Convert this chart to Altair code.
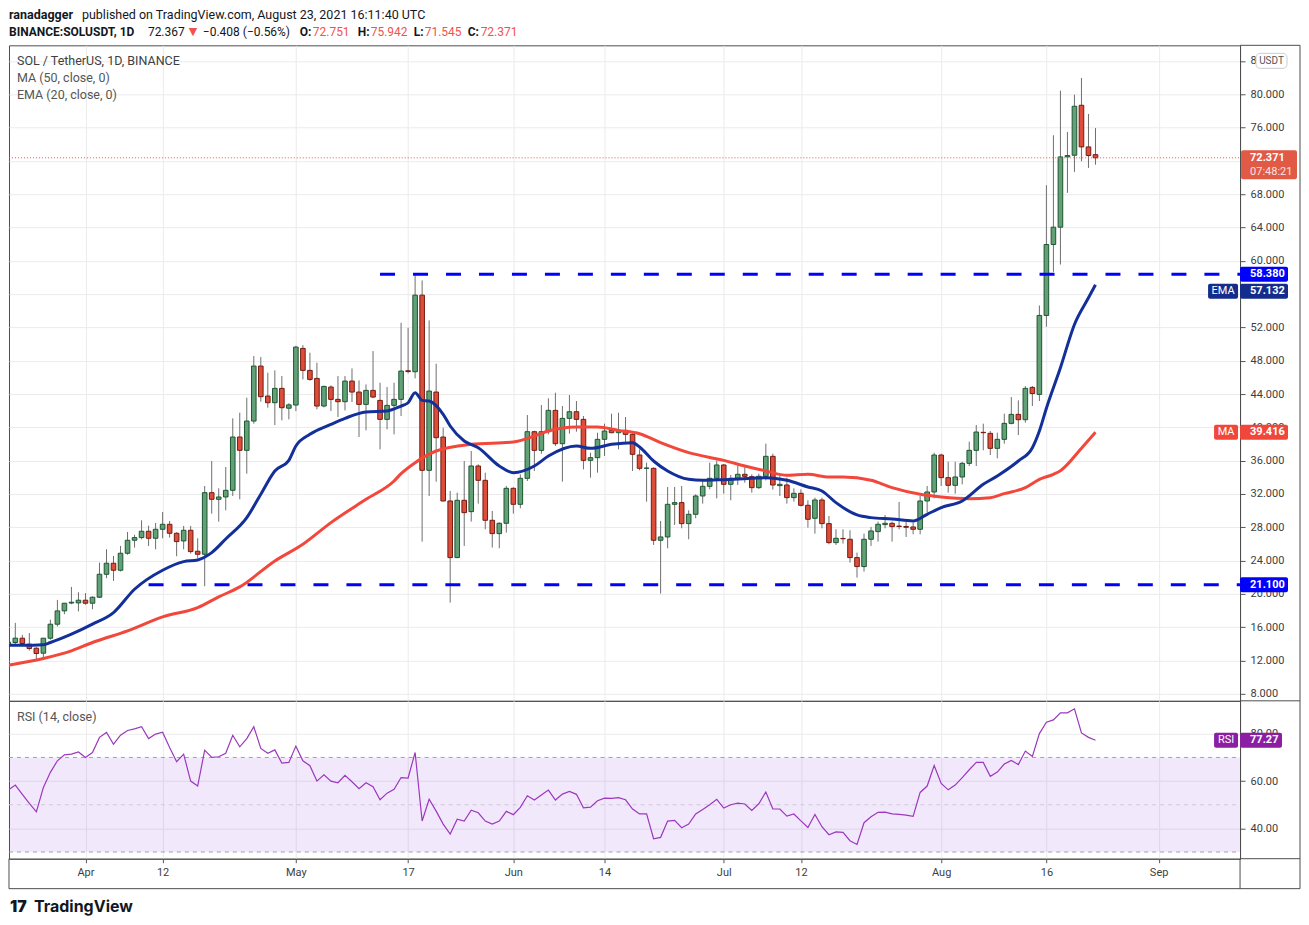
import altair as alt
import pandas as pd

# ---------------- data ----------------
# day index 0 = 2021-03-21, one candle per day up to 2021-08-23 (index 155)
opens = [13.96,14.16,14.68,13.96,13.48,12.88,14.68,16.36,17.96,18.9,
         18.92,19.24,18.88,19.6,22.36,23.68,22.84,24.88,26.44,26.76,
         27.52,26.68,27.76,28.36,27.28,26.36,27.64,25.12,24.76,32.16,
         31.36,31.64,32.44,38.84,37.24,40.76,47.36,43.76,42.96,44.68,
         42.3,42.68,49.48,46.84,45.88,42.56,44.84,43.36,43.08,45.56,
         44.24,42.76,44.44,43.24,40.96,42.64,43.36,46.8,46.68,55.88,
         34.84,44.24,38.84,31.16,24.36,31.24,29.88,35.36,33.64,28.84,
         27.24,28.48,32.68,30.76,33.88,39.48,37.24,39.48,42.04,38.04,
         41.08,41.88,40.96,36.04,36.36,38.56,39.64,39.36,39.64,39.16,
         36.68,35.08,35.08,26.44,26.84,30.76,30.96,28.44,29.56,31.76,
         32.92,33.88,35.48,33.16,33.88,34.36,34.08,32.76,34.12,36.52,
         33.0,33.08,31.56,32.08,30.64,29.08,31.28,28.44,26.16,26.66,
         26.56,24.36,23.28,26.56,27.48,28.32,28.48,28.14,28.1,28.04,
         27.76,31.16,32.24,36.68,33.96,33.04,34.04,35.68,37.24,39.4,
         39.28,37.48,38.56,40.48,41.56,40.92,44.8,43.96,53.44,61.96,
         64.04,72.48,72.68,78.68,73.68,72.751]
highs = [14.2,16.52,15.08,15.3,13.6,14.7,16.9,19.28,18.9,20.84,
         20.2,20.1,19.7,23.76,25.36,24.56,25.76,27.44,27.1,28.84,
         28.2,28.52,29.84,28.76,27.4,28.16,28.16,26.68,32.96,35.96,
         32.68,35.24,41.08,41.76,43.56,48.56,48.44,46.56,46.84,46.16,
         42.9,49.8,49.88,48.96,47.76,45.0,45.04,46.16,46.16,47.08,
         45.64,45.16,49.16,45.36,44.84,45.36,52.56,51.96,58.28,57.64,
         52.84,47.64,39.96,32.36,32.16,35.96,37.16,35.56,34.56,29.96,
         28.6,32.96,32.8,34.36,41.48,39.6,42.68,43.48,44.16,42.56,
         43.88,43.16,41.36,36.96,39.36,40.44,41.64,41.76,41.24,39.3,
         37.36,35.76,35.2,28.76,32.84,32.84,32.96,30.04,31.96,33.56,
         35.76,36.04,35.6,34.28,35.36,35.36,34.36,34.44,38.04,36.84,
         34.16,33.96,32.68,32.56,31.24,31.56,31.56,29.36,27.76,27.76,
         27.64,24.96,27.24,28.04,28.68,29.48,28.68,31.04,28.96,28.56,
         31.76,32.96,36.96,36.84,35.88,35.88,35.88,38.28,40.28,40.44,
         39.56,39.36,41.64,43.64,43.24,44.96,44.96,54.64,69.08,75.08,
         80.44,75.48,79.96,81.96,77.64,75.942]
lows = [13.5,13.76,13.76,13.2,12.16,12.2,14.5,16.08,17.56,18.76,
        17.9,18.7,18.16,19.5,21.88,21.56,22.7,24.7,25.56,26.56,
        25.76,25.36,26.68,26.76,24.52,25.36,24.84,24.28,20.92,29.64,
        28.68,30.04,31.76,31.36,34.44,40.44,43.08,42.36,40.28,40.84,
        40.96,41.96,45.76,45.6,42.16,42.4,41.96,41.24,42.04,43.04,
        38.84,39.64,43.5,37.36,39.76,39.16,41.36,46.5,45.88,26.28,
        31.76,33.48,31.1,18.96,24.3,25.76,28.68,30.84,27.76,25.56,
        25.48,27.36,29.64,30.28,33.56,34.76,36.84,39.16,37.76,33.48,
        39.24,39.48,34.96,33.96,34.56,36.56,39.3,37.36,38.16,34.76,
        34.84,31.08,25.88,20.04,25.48,28.28,27.88,26.56,29.08,30.84,
        32.56,31.48,32.04,31.24,33.08,33.36,32.16,32.6,33.64,32.52,
        31.76,30.84,31.08,30.5,27.96,27.24,27.88,25.96,25.88,26.04,
        23.76,21.96,22.68,25.76,26.28,27.88,26.28,27.76,26.84,27.16,
        27.16,29.76,31.48,32.96,32.16,32.04,33.16,35.36,35.36,37.24,
        36.68,36.28,38.04,40.36,39.08,40.56,42.56,43.16,52.08,58.68,
        59.56,68.16,70.68,71.96,71.16,71.545]
closes = [14.2,14.68,14.04,13.44,12.84,14.68,16.36,17.96,18.88,19.0,
          19.24,18.88,19.6,22.36,23.68,22.84,24.88,26.44,26.76,27.52,
          26.68,27.76,28.36,27.28,26.28,27.64,25.08,24.76,32.16,31.36,
          31.64,32.44,38.84,37.24,40.76,47.36,43.68,42.96,44.68,42.36,
          42.7,49.64,46.84,45.76,42.56,44.92,43.36,43.08,45.56,44.24,
          42.76,44.44,43.64,40.96,42.64,43.36,46.76,46.7,55.88,34.84,
          44.36,38.76,31.16,24.36,31.24,29.76,35.36,33.64,28.84,27.24,
          28.48,32.68,30.76,33.88,39.48,37.24,39.48,42.04,38.04,41.08,
          41.88,40.96,36.04,36.36,38.56,39.56,39.36,39.64,39.16,36.76,
          35.08,35.12,26.44,26.84,30.76,30.96,28.44,29.56,31.76,32.92,
          33.88,35.48,33.16,33.88,34.36,34.12,32.76,34.12,36.52,33.08,
          33.16,31.56,32.08,30.64,28.96,31.28,28.44,26.16,26.68,26.62,
          24.36,23.28,26.56,27.56,28.36,28.48,28.08,28.1,28.0,27.76,
          31.16,32.24,36.68,33.96,33.04,34.04,35.68,37.24,39.44,39.36,
          37.48,38.56,40.48,41.56,40.92,44.68,44.06,53.44,61.96,64.04,
          72.48,72.64,78.56,73.68,72.64,72.371]
rsi_vals = [56.2,58.3,54.4,50.6,47.0,57.3,63.7,68.6,71.1,71.4,
            72.3,70.0,72.1,78.5,80.6,75.6,79.4,81.4,82.1,83.0,
            78.0,79.9,80.7,74.2,68.2,71.4,60.0,57.9,73.1,70.0,
            70.3,71.8,79.4,74.5,78.0,83.0,73.8,71.8,73.2,67.6,
            67.9,74.8,68.6,66.5,60.0,62.7,60.0,59.3,62.4,59.7,
            56.8,59.3,57.6,52.1,54.9,56.5,61.5,61.3,72.1,43.1,
            52.3,47.3,41.8,37.6,43.9,43.1,47.7,46.6,43.1,41.8,
            43.1,47.2,45.8,48.9,53.8,52.0,54.1,56.2,52.0,54.5,
            55.6,54.4,48.7,49.0,51.7,52.8,52.7,53.0,52.1,48.2,
            46.1,46.1,35.6,36.2,43.1,43.4,40.3,41.8,46.1,48.0,
            50.0,52.3,48.6,50.0,50.7,50.3,47.6,50.4,55.4,48.2,
            48.2,45.2,46.1,43.2,40.4,45.9,40.7,37.3,38.5,38.3,
            34.8,33.2,42.4,44.9,46.8,46.9,46.1,45.9,45.6,45.1,
            55.2,57.9,66.6,59.0,56.3,58.3,61.5,64.8,67.9,67.9,
            62.0,63.8,67.2,68.7,67.0,72.7,70.4,80.1,84.9,85.9,
            88.9,88.9,90.6,80.4,78.5,77.27]

ema_days = [0,2,5,6,9,12,15,18,22,25,27,29,31,34,36,38,40,41,43,46,
            48,51,54,56,57,58,59,60,62,63,65,67,70,72,75,77,81,83,86,89,
            90,92,94,97,99,102,106,108,111,114,116,118,121,123,126,129,131,133,136,139,
            141,144,146,147,148,150,152,154,155]
ema_vals = [13.84,13.84,13.9,14.16,15.16,16.36,17.76,20.56,22.84,23.88,
            24.08,24.96,26.6,29.16,31.96,34.76,36.04,37.76,39.16,40.36,
            41.08,41.84,41.96,42.56,42.96,44.16,43.24,43.16,41.56,40.16,
            38.36,37.56,35.36,34.56,35.36,36.56,37.76,37.48,37.96,38.16,
            37.64,35.96,34.76,33.76,33.64,33.72,33.88,33.96,33.64,32.84,
            32.36,30.96,29.48,29.16,29.0,28.76,29.56,30.36,31.16,33.16,
            34.16,35.96,37.56,39.56,42.3,47.16,52.36,55.56,57.132]
ma_days = [0,5,9,12,17,22,27,30,33,38,42,46,51,55,56,58,61,66,72,75,
           77,81,84,87,90,93,97,102,105,108,111,114,117,119,123,126,130,133,137,140,
           142,145,147,149,150,153,155]
ma_vals = [11.44,12.24,13.16,14.16,15.56,17.24,18.36,19.64,20.84,23.96,
           25.96,28.56,31.36,33.56,34.44,35.76,37.16,37.96,38.24,38.96,
           39.56,40.04,40.04,39.64,39.24,38.16,36.96,36.04,35.36,34.76,
           34.24,34.36,34.04,34.04,33.64,32.76,31.96,31.64,31.44,31.56,
           32.04,32.76,33.76,34.36,34.8,37.5,39.416]

tick_days = [11, 22, 41, 57, 72, 85, 102, 113, 133, 148, 164]
tick_labels = ["Apr", "12", "May", "17", "Jun", "14", "Jul", "12", "Aug", "16", "Sep"]
price_ticks = list(range(8, 85, 4))
price_hidden = [72, 56]          # labels fully covered by the price tags
rsi_ticks = [40, 60, 80]
levels = [58.38, 21.1]
level_start = [53, 20]
last_price = 72.371
ema_last = 57.132
ma_last = 39.416
rsi_last = 77.27

# ---------------- styling ----------------
W, HP, HR = 1232, 656, 158
RIGHT = W + 60
FRAME = "#4d4d4d"
UPF, UPS = "#62a078", "#1d5530"
DNF, DNS = "#dc4e3a", "#741a10"
WICK = "#6e6e6e"
EMA_C, MA_C = "#13309a", "#f2473a"
TV_RED = "#ef5350"
FONT = "Roboto"

PXD = 7.0196
X0 = 0.1
xs = alt.Scale(domain=[X0, X0 + W / PXD], nice=False, zero=False, padding=0)
ysp = alt.Scale(domain=[7.16, 85.88], nice=False, zero=False, padding=0)
ysr = alt.Scale(domain=[27.17, 93.97], nice=False, zero=False, padding=0)

label_expr = "".join(f"datum.value == {d} ? '{l}' : " for d, l in zip(tick_days, tick_labels)) + "''"
price_label_expr = ("indexof([" + ",".join(str(v) for v in price_hidden) +
                    "], datum.value) >= 0 ? '' : format(datum.value, '.3f')")

x_ax_p = alt.Axis(values=tick_days, grid=True, labels=False, ticks=False, domain=False, title=None)
y_ax_p = alt.Axis(orient="right", values=price_ticks, labelExpr=price_label_expr, grid=True, tickSize=5,
                  labelPadding=5, title=None, labelOverlap=False)
x_ax_r = alt.Axis(values=tick_days, grid=True, labelExpr=label_expr, tickSize=4, labelPadding=4,
                  title=None, labelFlush=False, labelOverlap=False)
y_ax_r = alt.Axis(orient="right", values=rsi_ticks, format=".2f", grid=True, tickSize=5,
                  labelPadding=5, title=None, labelOverlap=False)

df = pd.DataFrame({"i": list(range(len(opens))), "o": opens, "h": highs, "l": lows, "c": closes})
df["d"] = ["up" if c >= o else "down" for o, c in zip(df.o, df.c)]
df["blo"] = df[["o", "c"]].min(axis=1)
df["bhi"] = df[["o", "c"]].max(axis=1)

ONE = pd.DataFrame({"k": [0]})


def txt(x, y, s, size=12, color="#131722", weight="normal", align="left", font=FONT):
    return alt.Chart(ONE).mark_text(text=s, align=align, baseline="middle", fontSize=size,
                                    font=font, fontWeight=weight, color=color).encode(
        x=alt.value(x), y=alt.value(y))


def seg(x, y, x2=None, y2=None, color=FRAME, width=1):
    enc = dict(x=alt.value(x), y=alt.value(y))
    if x2 is not None:
        enc["x2"] = alt.value(x2)
    if y2 is not None:
        enc["y2"] = alt.value(y2)
    return alt.Chart(ONE).mark_rule(color=color, strokeWidth=width).encode(**enc)


def tag_box(v, ys, yax, x0, x1, color, off=0.0, up=7.5, down=7.5):
    return alt.Chart(pd.DataFrame({"v": [v]})).mark_rect(
        color=color, yOffset=off - up, y2Offset=off + down, cornerRadius=2).encode(
        x=alt.value(x0), x2=alt.value(x1),
        y=alt.Y("v:Q", scale=ys, axis=yax), y2=alt.Y2("v"))


def tag_text(v, ys, yax, x, s, off=0.0, color="white", align="left", weight="bold", size=11):
    return alt.Chart(pd.DataFrame({"v": [v]})).mark_text(
        text=s, dy=off, align=align, baseline="middle", color=color, fontWeight=weight,
        fontSize=size, font=FONT).encode(
        x=alt.value(x), y=alt.Y("v:Q", scale=ys, axis=yax))


# ---------------- price pane ----------------
wicks = alt.Chart(df).mark_rule(color=WICK, strokeWidth=1, clip=True).encode(
    x=alt.X("i:Q", scale=xs, axis=x_ax_p),
    y=alt.Y("l:Q", scale=ysp, axis=y_ax_p), y2=alt.Y2("h"))
bodies = alt.Chart(df).mark_bar(size=4.6, strokeWidth=1, clip=True).encode(
    x=alt.X("i:Q", scale=xs, axis=x_ax_p),
    y=alt.Y("blo:Q", scale=ysp, axis=y_ax_p), y2=alt.Y2("bhi"),
    fill=alt.Fill("d:N", scale=alt.Scale(domain=["up", "down"], range=[UPF, DNF]), legend=None),
    stroke=alt.Stroke("d:N", scale=alt.Scale(domain=["up", "down"], range=[UPS, DNS]), legend=None))

ma_line = alt.Chart(pd.DataFrame({"d": ma_days, "v": ma_vals})).mark_line(
    color=MA_C, strokeWidth=3, interpolate="monotone", clip=True).encode(
    x=alt.X("d:Q", scale=xs, axis=x_ax_p), y=alt.Y("v:Q", scale=ysp, axis=y_ax_p))
ema_line = alt.Chart(pd.DataFrame({"d": ema_days, "v": ema_vals})).mark_line(
    color=EMA_C, strokeWidth=3, interpolate="monotone", clip=True).encode(
    x=alt.X("d:Q", scale=xs, axis=x_ax_p), y=alt.Y("v:Q", scale=ysp, axis=y_ax_p))

lvl = alt.Chart(pd.DataFrame({"v": levels, "s": level_start})).mark_rule(
    color="#0000ff", strokeWidth=3, strokeDash=[15, 18]).encode(
    x=alt.X("s:Q", scale=xs, axis=x_ax_p), x2=alt.value(W),
    y=alt.Y("v:Q", scale=ysp, axis=y_ax_p))

last_line = alt.Chart(pd.DataFrame({"v": [last_price]})).mark_rule(
    color=TV_RED, strokeWidth=1, strokeDash=[1, 2]).encode(
    x=alt.value(0), x2=alt.value(W), y=alt.Y("v:Q", scale=ysp, axis=y_ax_p))

HY1, HY2 = -30, -13   # header rows (pixels above the price pane)

price_layers = [wicks, bodies, ma_line, ema_line, lvl, last_line,
                # right side price tags
                tag_box(last_price, ysp, y_ax_p, W + 1, W + 57, "#e05a46", up=7.6, down=21.4),
                tag_text(last_price, ysp, y_ax_p, W + 10, f"{last_price:.3f}"),
                tag_text(last_price, ysp, y_ax_p, W + 10, "07:48:21", off=14, color="#fbe3df", weight="normal"),
                tag_box(levels[0], ysp, y_ax_p, W, W + 48, "#0000ff"),
                tag_text(levels[0], ysp, y_ax_p, W + 10, f"{levels[0]:.3f}"),
                tag_box(ema_last, ysp, y_ax_p, W, W + 48, "#142d8c", off=6.5),
                tag_text(ema_last, ysp, y_ax_p, W + 10, f"{ema_last:.3f}", off=6.5),
                tag_box(ema_last, ysp, y_ax_p, W - 32, W - 2, "#142d8c", off=6.5),
                tag_text(ema_last, ysp, y_ax_p, W - 17, "EMA", off=6.5, align="center", weight="normal"),
                tag_box(ma_last, ysp, y_ax_p, W, W + 48, "#f0473a"),
                tag_text(ma_last, ysp, y_ax_p, W + 10, f"{ma_last:.3f}"),
                tag_box(ma_last, ysp, y_ax_p, W - 26, W - 2, "#f0473a"),
                tag_text(ma_last, ysp, y_ax_p, W - 14, "MA", align="center", weight="normal"),
                tag_box(levels[1], ysp, y_ax_p, W, W + 48, "#0000ff"),
                tag_text(levels[1], ysp, y_ax_p, W + 10, f"{levels[1]:.3f}"),
                # currency box
                alt.Chart(ONE).mark_rect(fill="white", stroke="#c9ccd6", strokeWidth=1, cornerRadius=4).encode(
                    x=alt.value(W + 16), x2=alt.value(W + 47), y=alt.value(8), y2=alt.value(23)),
                txt(W + 31.5, 15.5, "USDT", size=10, color="#555555", align="center"),
                # frame of the right price scale
                seg(W, 0, x2=RIGHT), seg(RIGHT, 0, y2=HP), seg(W, HP, x2=RIGHT),
                # pane legend
                txt(8, 16, "SOL / TetherUS, 1D, BINANCE", size=12.5, color="#3f3f3f"),
                txt(8, 33, "MA (50, close, 0)", size=12.5, color="#555555"),
                txt(8, 50, "EMA (20, close, 0)", size=12.5, color="#555555"),
                # header
                txt(0, HY1, "ranadagger", size=12.5, weight="bold"),
                txt(73, HY1, "published on TradingView.com, August 23, 2021 16:11:40 UTC", size=12.5),
                txt(0, HY2, "BINANCE:SOLUSDT, 1D", size=12, weight="bold"),
                txt(139, HY2, "72.367", size=12),
                txt(180, HY2, "▼", size=11, color=TV_RED, font="DejaVu Sans"),
                txt(194, HY2, "−0.408 (−0.56%)", size=12),
                txt(291, HY2, "O:", size=12, weight="bold"),
                txt(304, HY2, "72.751", size=12, color=TV_RED),
                txt(349, HY2, "H:", size=12, weight="bold"),
                txt(362, HY2, "75.942", size=12, color=TV_RED),
                txt(405, HY2, "L:", size=12, weight="bold"),
                txt(416, HY2, "71.545", size=12, color=TV_RED),
                txt(459, HY2, "C:", size=12, weight="bold"),
                txt(472, HY2, "72.371", size=12, color=TV_RED),
                ]
price = alt.layer(*price_layers).properties(width=W, height=HP)

# ---------------- RSI pane ----------------
band = alt.Chart(pd.DataFrame({"a": [70], "b": [30]})).mark_rect(color="#7b1fe0", opacity=0.1).encode(
    x=alt.value(0), x2=alt.value(W), y=alt.Y("a:Q", scale=ysr, axis=y_ax_r), y2=alt.Y2("b"))
hl = alt.Chart(pd.DataFrame({"v": [70, 50, 30], "col": ["#a59fae", "#d2c8dc", "#a59fae"]})).mark_rule(
    strokeWidth=1, strokeDash=[4, 4]).encode(
    x=alt.value(0), x2=alt.value(W), y=alt.Y("v:Q", scale=ysr, axis=y_ax_r),
    color=alt.Color("col:N", scale=None))
rsi_line = alt.Chart(pd.DataFrame({"i": list(range(len(rsi_vals))), "r": rsi_vals})).mark_line(
    color="#9b38bd", strokeWidth=1.2, clip=True).encode(
    x=alt.X("i:Q", scale=xs, axis=x_ax_r), y=alt.Y("r:Q", scale=ysr, axis=y_ax_r))

rsi_layers = [band, hl, rsi_line,
              tag_box(rsi_last, ysr, y_ax_r, W, W + 42, "#8c1ea3"),
              tag_text(rsi_last, ysr, y_ax_r, W + 10, f"{rsi_last:.2f}"),
              tag_box(rsi_last, ysr, y_ax_r, W - 26, W - 2, "#8c1ea3"),
              tag_text(rsi_last, ysr, y_ax_r, W - 14, "RSI", align="center", weight="normal"),
              txt(8, 16, "RSI (14, close)", size=12.5, color="#555555"),
              seg(W, HR, x2=RIGHT), seg(RIGHT, 0, y2=HR + 30), seg(0, HR + 30, x2=RIGHT),
              seg(0, HR, y2=HR + 30), seg(W, HR, y2=HR + 30),
              txt(1, 206, "17", size=16, weight=900, font="Inter", color="#131722"),
              txt(25, 206, "TradingView", size=16, weight="bold", font="Inter", color="#131722"),
              ]
rsi = alt.layer(*rsi_layers).properties(width=W, height=HR)

chart = alt.vconcat(price, rsi, spacing=0, bounds="flush").resolve_scale(
    y="independent", x="shared").properties(padding=0, background="white").configure_view(
    stroke=FRAME, strokeWidth=1).configure_axis(
    labelFont=FONT, labelFontSize=11, labelColor="#3d3d3d", tickColor="#555555",
    domainColor=FRAME, gridColor="#ebebeb", gridWidth=1)

chart.save("out.html", embed_options={"renderer": "svg", "actions": False})
